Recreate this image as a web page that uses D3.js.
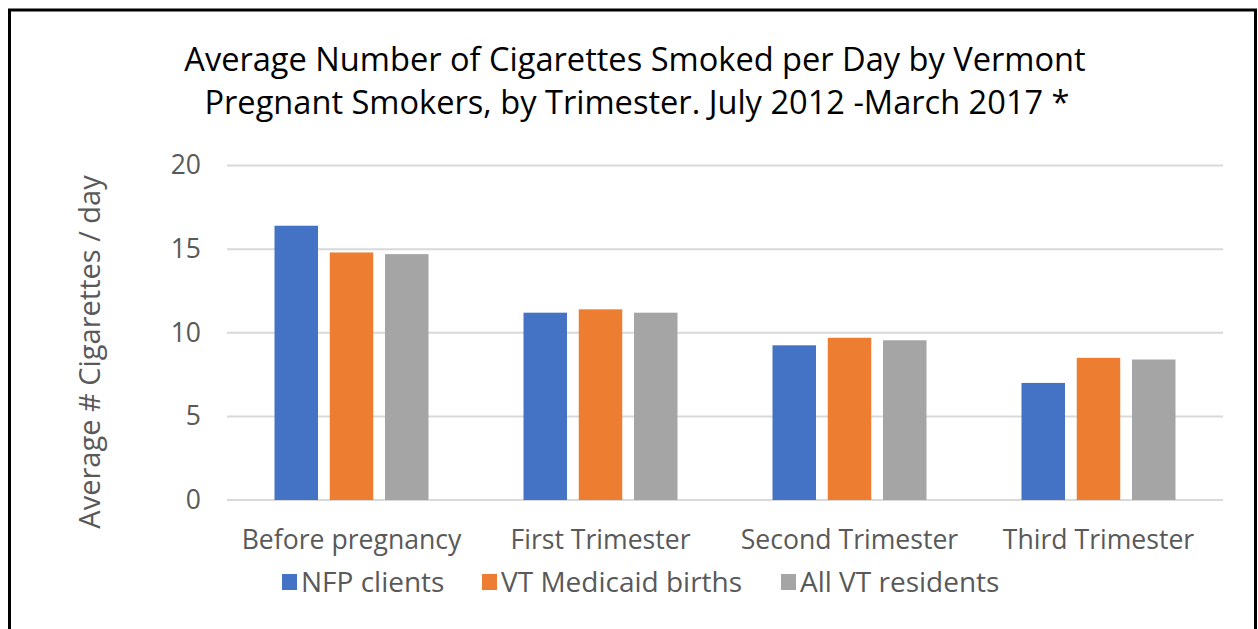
<!DOCTYPE html>
<html>
<head>
<meta charset="utf-8">
<script src="https://cdn.jsdelivr.net/npm/d3@7"></script>
<style>
  html, body { margin: 0; padding: 0; background: #fff; }
  svg { display: block; font-family: "Open Sans", sans-serif; }
</style>
</head>
<body>
<div id="chart"></div>
<script>
const categories = ["Before pregnancy", "First Trimester", "Second Trimester", "Third Trimester"];
const seriesNames = ["NFP clients", "VT Medicaid births", "All VT residents"];
const nfpClients = [16.4, 11.2, 9.25, 7.0];
const medicaidBirths = [14.8, 11.4, 9.7, 8.5];
const allResidents = [14.7, 11.2, 9.55, 8.4];
const yTicks = [0, 5, 10, 15, 20];
const colors = ["#4472C4", "#ED7D31", "#A5A5A5"];

const seriesValues = [nfpClients, medicaidBirths, allResidents];
const rows = categories.map((c, i) => ({
  category: c,
  values: seriesNames.map((s, j) => ({ series: s, value: seriesValues[j][i] }))
}));

const W = 1258, H = 629;
const plot = { left: 227, right: 1223, top: 165.5, bottom: 500 };

const svg = d3.select("#chart").append("svg")
  .attr("width", W)
  .attr("height", H);

// outer frame
svg.append("rect")
  .attr("x", 9.5).attr("y", 10)
  .attr("width", 1246).attr("height", 640)
  .attr("fill", "none")
  .attr("stroke", "#000")
  .attr("stroke-width", 3);

// title
const title = svg.append("text")
  .attr("text-anchor", "middle")
  .attr("font-size", 32.6)
  .attr("fill", "#000");
title.append("tspan").attr("x", 635).attr("y", 71)
  .text("Average Number of Cigarettes Smoked per Day by Vermont");
title.append("tspan").attr("x", 637).attr("y", 114)
  .text("Pregnant Smokers, by Trimester. July 2012 -March 2017 *");

const x0 = d3.scaleBand()
  .domain(categories)
  .range([plot.left, plot.right]);

const x1 = d3.scaleBand()
  .domain(seriesNames)
  .range([47.5, x0.bandwidth() - 47.5])
  .paddingInner(0.213);

const y = d3.scaleLinear()
  .domain([0, 20])
  .range([plot.bottom, plot.top]);

const color = d3.scaleOrdinal().domain(seriesNames).range(colors);

// gridlines
svg.append("g")
  .selectAll("line")
  .data(yTicks)
  .join("line")
  .attr("x1", plot.left)
  .attr("x2", plot.right)
  .attr("y1", d => y(d))
  .attr("y2", d => y(d))
  .attr("stroke", "#D9D9D9")
  .attr("stroke-width", 2);

// y axis labels
const yAxis = svg.append("g")
  .attr("transform", `translate(${plot.left - 26},0)`)
  .call(d3.axisLeft(y).tickValues(yTicks).tickSize(0).tickPadding(0));
yAxis.select(".domain").remove();
yAxis.selectAll("text")
  .attr("font-family", "Open Sans, sans-serif")
  .attr("font-size", 26.5)
  .attr("fill", "#595959");

// x axis labels
const xAxis = svg.append("g")
  .attr("transform", `translate(0,${plot.bottom})`)
  .call(d3.axisBottom(x0).tickSize(0).tickPadding(30));
xAxis.select(".domain").remove();
xAxis.selectAll("text")
  .attr("font-family", "Open Sans, sans-serif")
  .attr("font-size", 26.6)
  .attr("fill", "#595959");

// bars
svg.append("g")
  .selectAll("g")
  .data(rows)
  .join("g")
  .attr("transform", d => `translate(${x0(d.category)},0)`)
  .selectAll("rect")
  .data(d => d.values)
  .join("rect")
  .attr("x", d => x1(d.series))
  .attr("width", x1.bandwidth())
  .attr("y", d => y(d.value))
  .attr("height", d => y(0) - y(d.value))
  .attr("fill", d => color(d.series));

// y axis title
svg.append("text")
  .attr("transform", "translate(100,352) rotate(-90)")
  .attr("text-anchor", "middle")
  .attr("font-size", 29)
  .attr("fill", "#595959")
  .text("Average # Cigarettes / day");

// legend
const legendX = [282, 482, 781];
const legend = svg.append("g")
  .selectAll("g")
  .data(seriesNames)
  .join("g")
  .attr("transform", (d, i) => `translate(${legendX[i]},574)`);
legend.append("rect")
  .attr("width", 15)
  .attr("height", 16)
  .attr("fill", d => color(d));
legend.append("text")
  .attr("x", 19)
  .attr("y", 18)
  .attr("font-size", 28)
  .attr("fill", "#595959")
  .text(d => d);
</script>
</body>
</html>
